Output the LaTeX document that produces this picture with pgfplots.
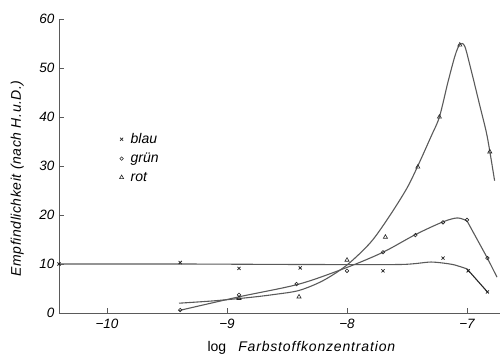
\documentclass[border=0pt]{standalone}
\usepackage{pgfplots}
\pgfplotsset{compat=1.18}
\usepackage{fontspec}
\setmainfont{Liberation Sans}
\newfontfamily\labfont[LetterSpace=6]{Liberation Sans}
\newfontfamily\ylabfont[LetterSpace=4]{Liberation Sans}
\definecolor{ln}{HTML}{5a5a5a}
\definecolor{mk}{HTML}{262626}
\begin{document}
\begin{tikzpicture}
\begin{axis}[
  scale only axis, width=441pt, height=294pt,
  xmin=-10.4, xmax=-6.725, ymin=0, ymax=60,
  axis lines*=left,
  axis line style={ln, line width=0.9pt},
  clip=false,
  xtick={-10,-9,-8,-7},
  xticklabels={−10,−9,−8,−7},
  ytick={0,10,20,30,40,50,60},
  yticklabels={0,10,20,30,40,50,60},
  tick align=inside, major tick length=5pt,
  tick style={ln, line width=0.6pt},
  ticklabel style={font=\fontsize{13.5}{15}\selectfont\itshape},
  xticklabel style={yshift=-3pt},
  yticklabel style={xshift=-1pt},
  /pgf/number format/assume math mode=true,
  legend style={draw=none, fill=none, at={(0.13,0.625)}, anchor=north west,
    font=\fontsize{14}{16}\selectfont\itshape, row sep=4pt,
    /tikz/every odd column/.append style={column sep=5pt}},
  legend cell align=left,
]
\coordinate (bl) at (rel axis cs:0,0);
\coordinate (tr) at (rel axis cs:1,1);
% curves
\addplot[ln, line width=1.1pt, smooth, tension=0.4, forget plot] coordinates {
(-10.4,10)(-9.4,10)(-8.4,9.9)(-7.55,9.9)(-7.3,10.4)(-7.12,9.9)(-7.0,9.0)};
\addplot[mk, line width=1.1pt, forget plot] coordinates {(-7.0,9.0)(-6.83,4.3)};
\addplot[ln, line width=1.1pt, smooth, tension=0.5, forget plot] coordinates {
(-9.4,0.5)(-8.9,3.3)(-8.4,5.9)(-8,9.3)(-7.7,12.4)(-7.43,16)(-7.2,18.6)(-7.08,19.4)(-7.0,18.8)};
\addplot[ln, line width=1.1pt, forget plot] coordinates {(-7.0,18.8)(-6.83,11.2)(-6.75,7.3)};
\addplot[ln, line width=1.1pt, smooth, tension=0.5, forget plot] coordinates {
(-9.4,2.0)(-9.1,2.5)(-8.8,3.2)(-8.6,3.8)(-8.4,4.6)(-8.2,6.6)(-8.0,9.8)(-7.8,14.5)(-7.64,20)(-7.5,25.5)(-7.41,30)(-7.3,36)(-7.23,40)(-7.16,47)(-7.1,52.5)(-7.06,54.8)(-7.02,54.5)(-6.97,50)(-6.9,43)(-6.84,37)(-6.81,33)(-6.77,27)};
% marks
\addplot[only marks, mark=x, mark size=2.2pt, mk, line width=0.8pt] coordinates {
(-10.4,10)(-9.39,10.3)(-8.9,9.1)(-8.39,9.2)(-7.7,8.6)(-7.2,11.2)(-6.99,8.6)(-6.83,4.3)};
\addlegendentry{blau}
\addplot[only marks, mark=o, mark size=1.8pt, mk, line width=0.6pt, mark options={fill=white}] coordinates {
(-9.39,0.6)(-8.9,3.7)(-8.42,5.9)(-8,8.6)(-7.7,12.4)(-7.43,15.9)(-7.2,18.5)(-7.0,19.0)(-6.83,11.2)};
\addlegendentry{grün}
\addplot[only marks, mark=triangle, mark size=2.4pt, mk, line width=0.6pt] coordinates {
(-8.9,3.0)(-8.4,3.3)(-8.0,10.8)(-7.68,15.5)(-7.41,29.8)(-7.23,40)(-7.06,54.7)(-6.81,32.9)};
\addlegendentry{rot}
\node[font=\fontsize{14}{16}\selectfont, anchor=base] at ([yshift=-39pt]axis cs:-8.38,0)
  {log\hspace{12pt}{\labfont\itshape Farbstoffkonzentration}};
\node[font=\fontsize{14}{16}\selectfont, rotate=90, anchor=base] at ([xshift=-38pt]axis cs:-10.4,27.5)
  {\ylabfont\itshape Empfindlichkeit (nach H.u.D.)};
\end{axis}
\pgfresetboundingbox
\path ([shift={(-59pt,-43pt)}]bl) rectangle ([shift={(2pt,19pt)}]tr);
\end{tikzpicture}
\end{document}
